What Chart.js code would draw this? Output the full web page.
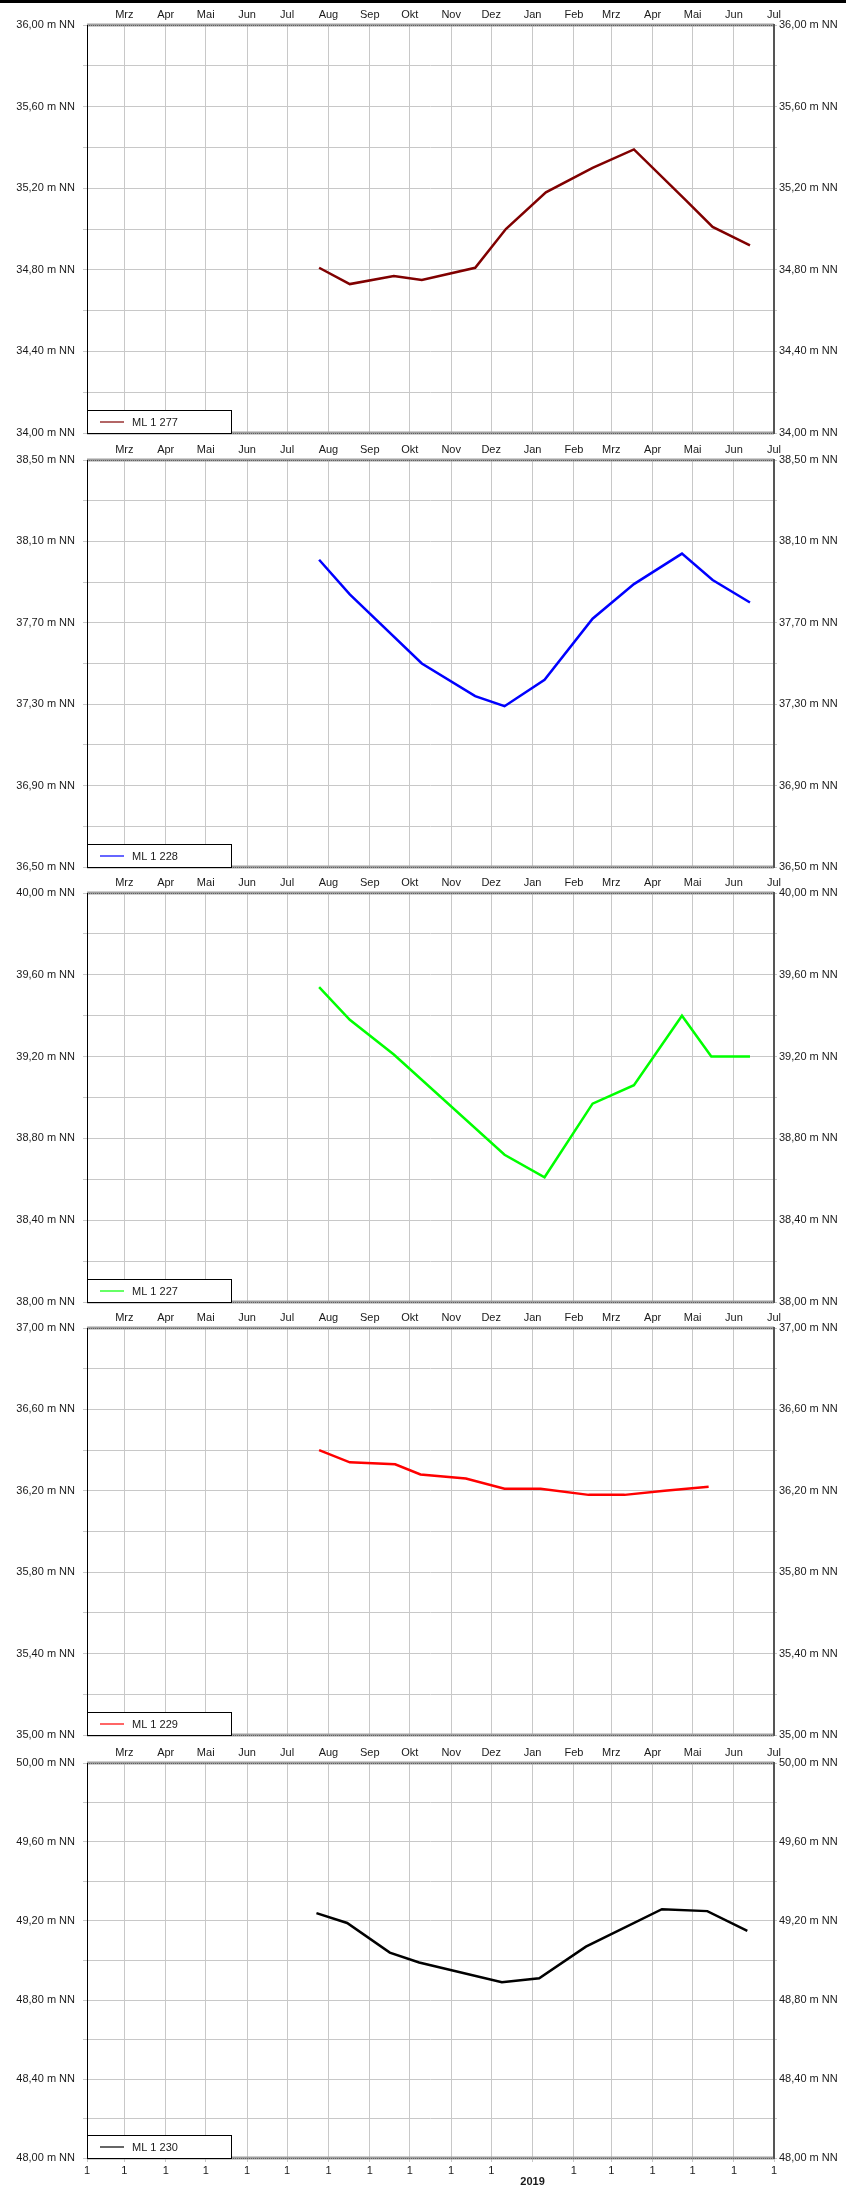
<!DOCTYPE html>
<html>
<head>
<meta charset="utf-8">
<script src="https://cdn.jsdelivr.net/npm/chart.js@4/dist/chart.umd.min.js"></script>
<style>
  html, body { margin:0; padding:0; background:#fff; }
  body { position:relative; width:846px; height:2186px; overflow:hidden; }
  #topline { position:absolute; left:0; top:0; width:846px; height:3px; background:#000; z-index:5; }
</style>
</head>
<body>
<div id="topline"></div>
<script>
// ---- Data ----
const MONTH_TICKS = ['2018-02-01','2018-03-01','2018-04-01','2018-05-01','2018-06-01','2018-07-01','2018-08-01','2018-09-01','2018-10-01','2018-11-01','2018-12-01','2019-01-01','2019-02-01','2019-03-01','2019-04-01','2019-05-01','2019-06-01','2019-07-01'];
const TOP_LABELS = ['','Mrz','Apr','Mai','Jun','Jul','Aug','Sep','Okt','Nov','Dez','Jan','Feb','Mrz','Apr','Mai','Jun','Jul'];
const BOTTOM_LABELS = ['1','1','1','1','1','1','1','1','1','1','1',['','2019'],'1','1','1','1','1','1'];

const ML277_DATES  = ['2018-07-25','2018-08-17','2018-09-19','2018-10-10','2018-11-19','2018-12-12','2019-01-11','2019-02-15','2019-03-18','2019-04-26','2019-05-16','2019-06-13'];
const ML277_VALUES = [34.81, 34.73, 34.77, 34.75, 34.81, 35.00, 35.18, 35.30, 35.39, 35.14, 35.01, 34.92];

const ML228_DATES  = ['2018-07-25','2018-08-17','2018-10-10','2018-11-19','2018-12-11','2019-01-10','2019-02-15','2019-03-18','2019-04-23','2019-05-16','2019-06-13'];
const ML228_VALUES = [38.01, 37.84, 37.50, 37.34, 37.29, 37.42, 37.72, 37.89, 38.04, 37.91, 37.80];

const ML227_DATES  = ['2018-07-25','2018-08-17','2018-09-19','2018-12-11','2019-01-10','2019-02-15','2019-03-18','2019-04-23','2019-05-15','2019-06-13'];
const ML227_VALUES = [39.54, 39.38, 39.21, 38.72, 38.61, 38.97, 39.06, 39.40, 39.20, 39.20];

const ML229_DATES  = ['2018-07-25','2018-08-17','2018-09-20','2018-10-09','2018-11-12','2018-12-11','2019-01-07','2019-02-12','2019-03-11','2019-04-10','2019-05-13'];
const ML229_VALUES = [36.40, 36.34, 36.33, 36.28, 36.26, 36.21, 36.21, 36.18, 36.18, 36.20, 36.22];

const ML230_DATES  = ['2018-07-23','2018-08-15','2018-09-16','2018-10-08','2018-12-09','2019-01-06','2019-02-10','2019-04-08','2019-05-12','2019-06-11'];
const ML230_VALUES = [49.24, 49.19, 49.04, 48.99, 48.89, 48.91, 49.07, 49.26, 49.25, 49.15];

const PANEL_LABELS = ['ML 1 277','ML 1 228','ML 1 227','ML 1 229','ML 1 230'];
const PANEL_DATES  = [ML277_DATES, ML228_DATES, ML227_DATES, ML229_DATES, ML230_DATES];
const PANEL_VALUES = [ML277_VALUES, ML228_VALUES, ML227_VALUES, ML229_VALUES, ML230_VALUES];
const PANEL_COLORS = ['#800000','#0000ff','#00ff00','#ff0000','#000000'];
const Y_MIN = [34.0, 36.5, 38.0, 35.0, 48.0];
const Y_SPAN = 2.0, Y_STEP = 0.2;

// ---- Layout ----
const PANEL_TOP    = [25, 460, 893, 1328, 1763];
const PANEL_BOTTOM = [433, 867, 1302, 1735, 2158];
const W = 846, LEFT_W = 87, RIGHT_W = 72, TOP_H = 25, BOT_PAD = 10;
const GRID = '#c8c8c8', TXT = '#1a1a1a';

Chart.defaults.font.family = '"Liberation Sans", Arial, Helvetica, sans-serif';
Chart.defaults.font.size = 11;
Chart.defaults.color = TXT;

const dayOf = (s) => { const [y,m,d] = s.split('-').map(Number); return (Date.UTC(y,m-1,d) - Date.UTC(2018,1,1)) / 86400000; };
const MONTH_DAYS = MONTH_TICKS.map(dayOf);
const fmtY = (v) => v.toFixed(2).replace('.', ',') + ' m NN';

const framePlugin = {
  id: 'frame',
  afterDatasetsDraw(chart){
    const { ctx, chartArea:a } = chart;
    ctx.save();
    // top / bottom grey rails
    [a.top, a.bottom].forEach(y => {
      ctx.fillStyle = '#a0a0a0';
      ctx.fillRect(a.left, y - 1.5, a.right - a.left, 3);
      ctx.strokeStyle = '#606060'; ctx.lineWidth = 1; ctx.setLineDash([1,1]);
      ctx.beginPath(); ctx.moveTo(a.left, y + 0.5); ctx.lineTo(a.right, y + 0.5); ctx.stroke();
      ctx.setLineDash([]);
    });
    ctx.strokeStyle = '#000'; ctx.lineWidth = 1;
    ctx.beginPath(); ctx.moveTo(a.left + 0.5, a.top); ctx.lineTo(a.left + 0.5, a.bottom); ctx.stroke();
    ctx.strokeStyle = '#555'; ctx.lineWidth = 2;
    ctx.beginPath(); ctx.moveTo(a.right, a.top - 1); ctx.lineTo(a.right, a.bottom + 1); ctx.stroke();
    // legend box
    const ds = chart.data.datasets[0];
    const bw = 144, bh = 23, bx = a.left, by = a.bottom - bh;
    ctx.fillStyle = '#fff'; ctx.fillRect(bx, by, bw, bh);
    ctx.strokeStyle = '#000'; ctx.lineWidth = 1; ctx.strokeRect(bx + 0.5, by + 0.5, bw, bh);
    ctx.strokeStyle = ds.borderColor; ctx.lineWidth = 1.2;
    ctx.beginPath(); ctx.moveTo(bx + 13, by + bh/2 + 0.5); ctx.lineTo(bx + 37, by + bh/2 + 0.5); ctx.stroke();
    ctx.fillStyle = TXT; ctx.font = '11px "Liberation Sans", Arial, sans-serif'; ctx.textBaseline = 'middle';
    ctx.fillText(ds.label, bx + 45, by + bh/2 + 1);
    ctx.restore();
  }
};

function yTicks(i){
  return (s) => { s.ticks = []; for (let k = 0; k <= Y_SPAN / Y_STEP; k++) s.ticks.push({ value: +(Y_MIN[i] + k * Y_STEP).toFixed(2) }); };
}
const fitY = (w) => (s) => { s.width = w; s.paddingTop = 0; s.paddingBottom = 0; };

function makePanel(i){
  const last = i === PANEL_TOP.length - 1;
  const plotH = PANEL_BOTTOM[i] - PANEL_TOP[i];
  const H = TOP_H + plotH + (last ? 28 : BOT_PAD);
  const cv = document.createElement('canvas');
  cv.width = W; cv.height = H;
  cv.style.cssText = `position:absolute;left:0;top:${PANEL_TOP[i] - TOP_H}px;width:${W}px;height:${H}px`;
  document.body.appendChild(cv);

  const scales = {
    x: {
      type:'linear', position:'top', min: MONTH_DAYS[0], max: MONTH_DAYS[MONTH_DAYS.length-1],
      afterBuildTicks: s => { s.ticks = MONTH_DAYS.map(v => ({ value:v })); },
      afterFit: s => { s.height = TOP_H; s.paddingLeft = 0; s.paddingRight = 0; },
      grid: { color: GRID, lineWidth: 1, drawTicks: false },
      border: { display:false },
      ticks: { autoSkip:false, maxRotation:0, padding:3, callback: (v, idx) => TOP_LABELS[idx] }
    },
    y: {
      type:'linear', position:'left', min: Y_MIN[i], max: Y_MIN[i] + Y_SPAN,
      afterBuildTicks: yTicks(i),
      afterFit: fitY(LEFT_W),
      grid: { color: GRID, lineWidth: 1, tickLength: 4 },
      border: { display:false },
      ticks: { padding: 8, callback: (v, idx) => idx % 2 === 0 ? fmtY(v) : '' }
    },
    y2: {
      type:'linear', position:'right', min: Y_MIN[i], max: Y_MIN[i] + Y_SPAN,
      afterBuildTicks: yTicks(i),
      afterFit: fitY(RIGHT_W),
      grid: { color: GRID, lineWidth: 1, tickLength: 3, drawOnChartArea:false },
      border: { display:false },
      ticks: { padding: 2, callback: (v, idx) => idx % 2 === 0 ? fmtY(v) : '' }
    }
  };
  if (last) {
    scales.x2 = {
      type:'linear', position:'bottom', min: MONTH_DAYS[0], max: MONTH_DAYS[MONTH_DAYS.length-1],
      afterBuildTicks: s => { s.ticks = MONTH_DAYS.map(v => ({ value:v })); },
      afterFit: s => { s.height = 28; s.paddingLeft = 0; s.paddingRight = 0; },
      grid: { color: GRID, lineWidth: 1, tickLength: 4, drawOnChartArea:false },
      border: { display:false },
      ticks: {
        autoSkip:false, maxRotation:0, padding:3,
        font: (c) => ({ size:11, lineHeight:1, weight: (c.index === 11 ? 'bold' : 'normal') }),
        callback: (v, idx) => BOTTOM_LABELS[idx]
      }
    };
  }

  new Chart(cv, {
    type:'line',
    data: { datasets: [{
      label: PANEL_LABELS[i],
      data: PANEL_DATES[i].map((d, k) => ({ x: dayOf(d), y: PANEL_VALUES[i][k] })),
      borderColor: PANEL_COLORS[i], borderWidth: 2.5, pointRadius: 0, tension: 0, fill:false,
      xAxisID:'x', yAxisID:'y'
    }]},
    options: {
      responsive:false, animation:false, devicePixelRatio:1,
      layout: { padding: { top:0, left:0, right:0, bottom: last ? 0 : BOT_PAD } },
      plugins: { legend:{ display:false }, tooltip:{ enabled:false } },
      scales
    },
    plugins: [framePlugin]
  });
}

PANEL_TOP.forEach((_, i) => makePanel(i));
</script>
</body>
</html>
